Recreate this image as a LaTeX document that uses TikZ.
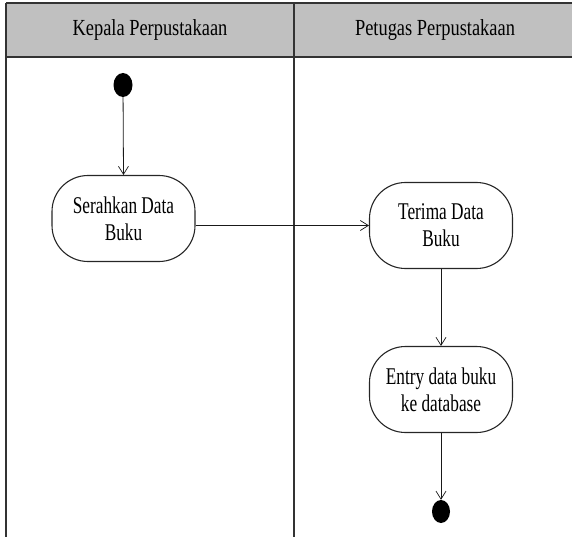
\documentclass[tikz,border=0pt]{standalone}
\usepackage{fontspec}
\setmainfont{Liberation Serif}
\newfontfamily\hdrfont[FakeStretch=0.8]{Liberation Serif}
\newfontfamily\actfont[FakeStretch=0.72]{Liberation Serif}
\usetikzlibrary{arrows.meta,shapes.geometric}
\definecolor{hdrgray}{HTML}{C0C0C0}
\definecolor{frame}{HTML}{333333}
\begin{document}
\begin{tikzpicture}[x=1pt,y=-1pt,
  act/.style={draw=black!85, line width=1.1pt, rounded corners=36pt,
    minimum width=143pt, minimum height=86pt, align=center, inner sep=0pt,
    font=\actfont\fontsize{24}{27}\selectfont},
  lbl/.style={font=\hdrfont\fontsize{23}{27}\selectfont, inner sep=0pt},
  dot/.style={ellipse, fill=black, draw=none, minimum width=19pt, minimum height=24pt, inner sep=0pt},
  flow/.style={draw=black!90, line width=0.8pt, -{Straight Barb[length=8pt,width=10pt,line width=0.7pt]}},
  lane/.style={draw=frame, line width=1.4pt}]
\useasboundingbox (0,0) rectangle (572,537);
\clip (0,0) rectangle (572,537);
% header
\fill[hdrgray] (6,3) rectangle (590,57);
\draw[lane] (6,3) -- (590,3);
\draw[lane] (6,57) -- (590,57);
\draw[lane] (6,3) -- (6,540);
\draw[lane] (294,3) -- (294,540);
\node[lbl] (h1) at (150,30) {Kepala Perpustakaan};
\node[lbl] (h2) at (435,30) {Petugas Perpustakaan};
% nodes
\node[dot] (start) at (123,85) {};
\node[act] (s) at (123.5,218.5) {Serahkan Data\\Buku};
\node[act] (t) at (441,225.5) {Terima Data\\Buku};
\node[act] (e) at (441,389.5) {Entry data buku\\ke database};
\node[dot, minimum width=18pt, minimum height=23pt] (end) at (441,511.5) {};
% connectors
\draw[flow] (start) -- (s.north);
\draw[flow] (s.east |- t.west) -- (t.west);
\draw[flow] (t.south) -- (e.north);
\draw[flow] (e.south) -- (end.north);
\end{tikzpicture}
\end{document}
